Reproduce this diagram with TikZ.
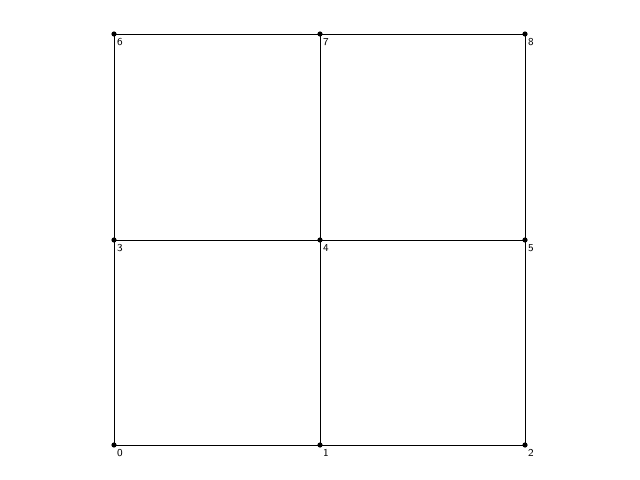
\documentclass[tikz,border=0pt]{standalone}
\usepackage{tikz}
\usetikzlibrary{positioning}

\begin{document}
\begin{tikzpicture}[
  x=0.025cm, y=-0.025cm,
  vertex/.style={circle, fill=black, inner sep=0pt, minimum size=0.13cm},
  lbl/.style={anchor=north west, inner sep=0pt, font=\sffamily\fontsize{7.5}{8}\selectfont},
  edge/.style={draw, line width=0.5pt}
]
\useasboundingbox (0,0) rectangle (640,480);

% grid points, numbered from the bottom row
\foreach \i/\px/\py in {0/114/445, 1/320/445, 2/525/445,
                        3/114/240, 4/320/240, 5/525/240,
                        6/114/34,  7/320/34,  8/525/34}{
  \node[vertex] (p\i) at (\px,\py) {};
  \node[lbl] (l\i) at ([xshift=0.07cm,yshift=-0.1cm]p\i.center) {\i};
}

% horizontal edges
\draw[edge] (p0.center) -- (p1.center);
\draw[edge] (p1.center) -- (p2.center);
\draw[edge] (p3.center) -- (p4.center);
\draw[edge] (p4.center) -- (p5.center);
\draw[edge] (p6.center) -- (p7.center);
\draw[edge] (p7.center) -- (p8.center);
% vertical edges
\draw[edge] (p0.center) -- (p3.center);
\draw[edge] (p3.center) -- (p6.center);
\draw[edge] (p1.center) -- (p4.center);
\draw[edge] (p4.center) -- (p7.center);
\draw[edge] (p2.center) -- (p5.center);
\draw[edge] (p5.center) -- (p8.center);

\end{tikzpicture}
\end{document}
